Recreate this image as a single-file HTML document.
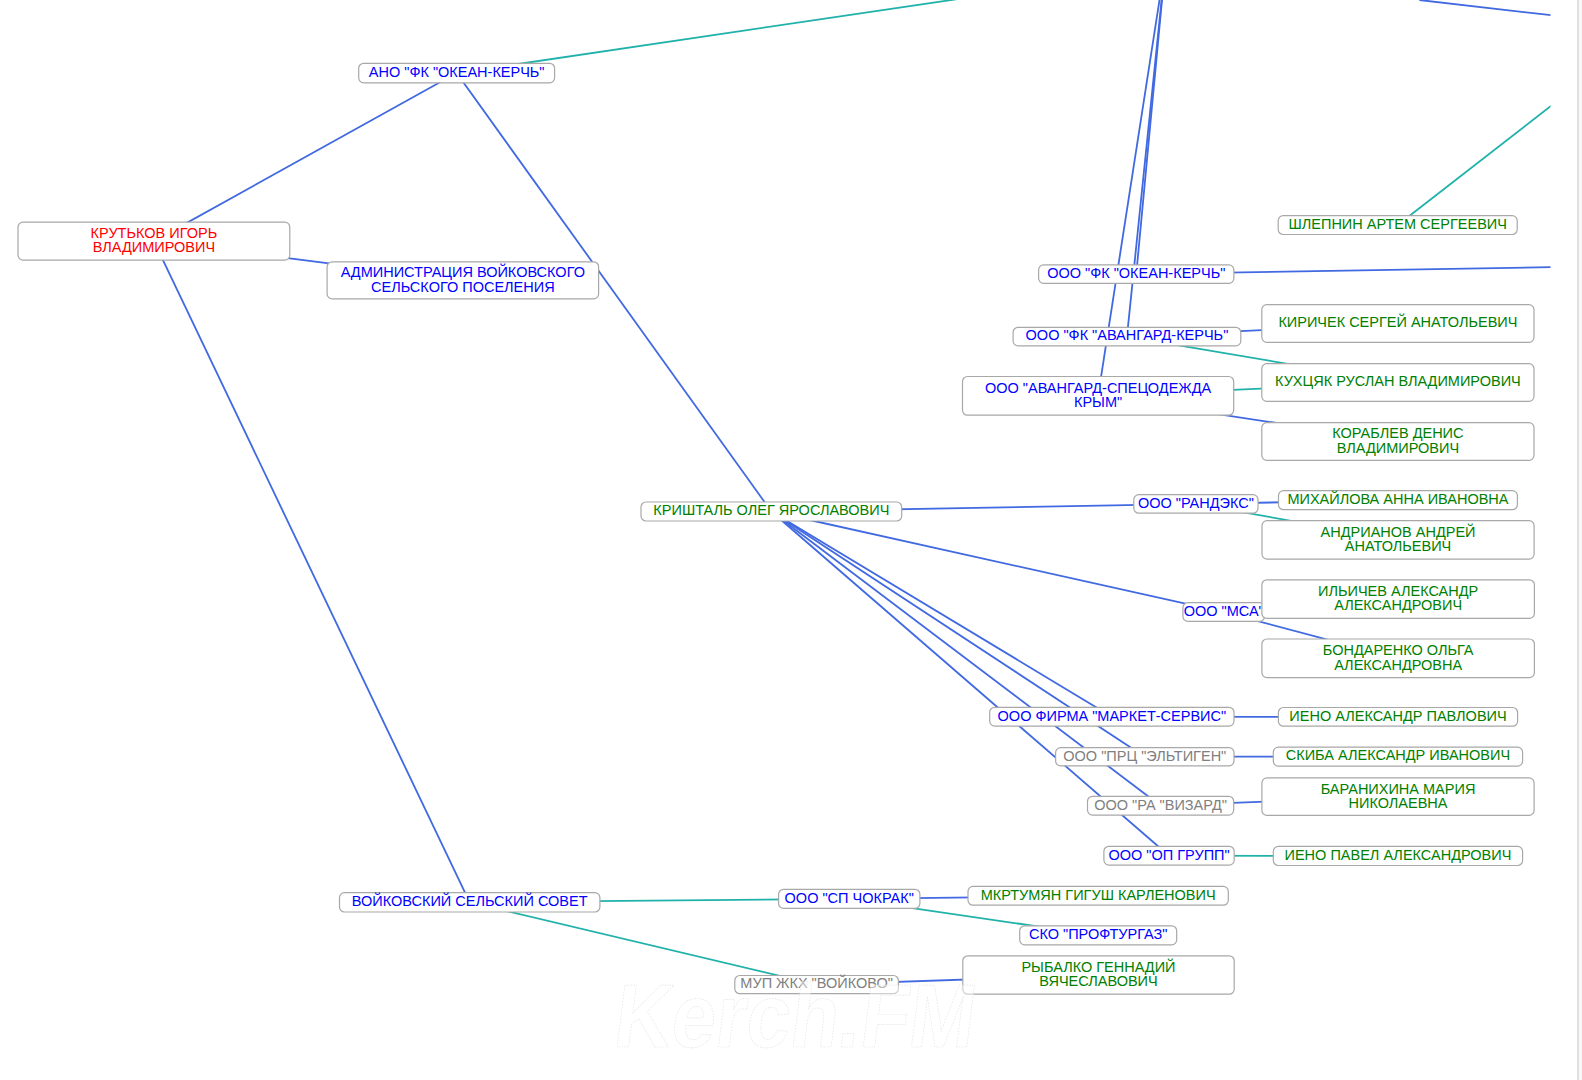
<!DOCTYPE html><html><head><meta charset="utf-8"><style>html,body{margin:0;padding:0;background:#fff;width:1582px;height:1080px;overflow:hidden}svg{position:absolute;left:0;top:0}</style></head><body>
<svg width="1582" height="1080" viewBox="0 0 1582 1080">
<defs><clipPath id="cp"><rect x="0" y="0" width="1550.5" height="1080"/></clipPath></defs>
<g><g clip-path="url(#cp)">
<line x1="153.90" y1="241.15" x2="456.65" y2="73.05" stroke="#4169e1" stroke-width="1.8"/>
<line x1="153.90" y1="241.15" x2="462.85" y2="280.35" stroke="#4169e1" stroke-width="1.8"/>
<line x1="153.90" y1="241.15" x2="469.70" y2="902.30" stroke="#4169e1" stroke-width="1.8"/>
<line x1="456.65" y1="73.05" x2="771.35" y2="511.50" stroke="#4169e1" stroke-width="1.8"/>
<line x1="1126.95" y1="336.60" x2="1397.90" y2="323.45" stroke="#4169e1" stroke-width="1.8"/>
<line x1="1126.95" y1="336.60" x2="1397.90" y2="382.50" stroke="#20b2aa" stroke-width="1.8"/>
<line x1="1098.10" y1="395.85" x2="1397.90" y2="382.50" stroke="#20b2aa" stroke-width="1.8"/>
<line x1="1098.10" y1="395.85" x2="1397.90" y2="441.45" stroke="#4169e1" stroke-width="1.8"/>
<line x1="771.35" y1="511.50" x2="1195.90" y2="503.90" stroke="#4169e1" stroke-width="1.8"/>
<line x1="1195.90" y1="503.90" x2="1397.95" y2="500.15" stroke="#4169e1" stroke-width="1.8"/>
<line x1="1195.90" y1="503.90" x2="1398.05" y2="539.85" stroke="#20b2aa" stroke-width="1.8"/>
<line x1="771.35" y1="511.50" x2="1223.70" y2="612.05" stroke="#4169e1" stroke-width="1.8"/>
<line x1="1223.70" y1="612.05" x2="1398.15" y2="658.30" stroke="#4169e1" stroke-width="1.8"/>
<line x1="1223.70" y1="612.05" x2="1398.15" y2="599.10" stroke="#4169e1" stroke-width="1.8"/>
<line x1="771.35" y1="511.50" x2="1111.85" y2="716.70" stroke="#4169e1" stroke-width="1.8"/>
<line x1="771.35" y1="511.50" x2="1144.80" y2="756.70" stroke="#4169e1" stroke-width="1.8"/>
<line x1="771.35" y1="511.50" x2="1160.60" y2="805.70" stroke="#4169e1" stroke-width="1.8"/>
<line x1="771.35" y1="511.50" x2="1169.05" y2="855.70" stroke="#4169e1" stroke-width="1.8"/>
<line x1="1111.85" y1="716.70" x2="1398.00" y2="716.85" stroke="#4169e1" stroke-width="1.8"/>
<line x1="1144.80" y1="756.70" x2="1397.95" y2="756.65" stroke="#4169e1" stroke-width="1.8"/>
<line x1="1160.60" y1="805.70" x2="1398.00" y2="796.65" stroke="#4169e1" stroke-width="1.8"/>
<line x1="1169.05" y1="855.70" x2="1397.95" y2="855.95" stroke="#20b2aa" stroke-width="1.8"/>
<line x1="469.70" y1="902.30" x2="849.25" y2="898.85" stroke="#20b2aa" stroke-width="1.8"/>
<line x1="849.25" y1="898.85" x2="1098.15" y2="895.80" stroke="#4169e1" stroke-width="1.8"/>
<line x1="849.25" y1="898.85" x2="1098.20" y2="935.30" stroke="#20b2aa" stroke-width="1.8"/>
<line x1="469.70" y1="902.30" x2="816.60" y2="984.60" stroke="#20b2aa" stroke-width="1.8"/>
<line x1="816.60" y1="984.60" x2="1098.50" y2="975.00" stroke="#4169e1" stroke-width="1.8"/>
<line x1="456.65" y1="73.05" x2="1940.60" y2="-146.10" stroke="#20b2aa" stroke-width="1.8"/>
<line x1="1165.80" y1="-40.60" x2="1136.25" y2="274.10" stroke="#4169e1" stroke-width="1.8"/>
<line x1="1165.80" y1="-40.60" x2="1126.95" y2="336.60" stroke="#4169e1" stroke-width="1.8"/>
<line x1="1165.80" y1="-40.60" x2="1098.10" y2="395.85" stroke="#4169e1" stroke-width="1.8"/>
<line x1="1419.40" y1="0.00" x2="1811.20" y2="45.30" stroke="#4169e1" stroke-width="1.8"/>
<line x1="1397.70" y1="225.05" x2="1855.80" y2="-131.20" stroke="#20b2aa" stroke-width="1.8"/>
<line x1="1136.25" y1="274.10" x2="2377.50" y2="253.40" stroke="#4169e1" stroke-width="1.8"/>
</g>
<rect x="1182.90" y="602.70" width="81.60" height="18.70" rx="5" ry="5" fill="#fff" stroke="#a8a8a8" stroke-width="1.2"/>
<text x="1223.70" y="615.89" text-anchor="middle" fill="#0000ff" font-family="Liberation Sans" font-size="14.5">ООО &quot;МСА&quot;</text>
<rect x="358.70" y="63.30" width="195.90" height="19.50" rx="5" ry="5" fill="#fff" stroke="#a8a8a8" stroke-width="1.2"/>
<text x="456.65" y="76.89" text-anchor="middle" fill="#0000ff" font-family="Liberation Sans" font-size="14.5">АНО &quot;ФК &quot;ОКЕАН-КЕРЧЬ&quot;</text>
<rect x="18.00" y="222.20" width="271.80" height="37.90" rx="5" ry="5" fill="#fff" stroke="#a8a8a8" stroke-width="1.2"/>
<text x="153.90" y="238.19" text-anchor="middle" fill="#ff0000" font-family="Liberation Sans" font-size="14.5">КРУТЬКОВ ИГОРЬ</text>
<text x="153.90" y="252.39" text-anchor="middle" fill="#ff0000" font-family="Liberation Sans" font-size="14.5">ВЛАДИМИРОВИЧ</text>
<rect x="327.10" y="261.80" width="271.50" height="37.10" rx="5" ry="5" fill="#fff" stroke="#a8a8a8" stroke-width="1.2"/>
<text x="462.85" y="277.39" text-anchor="middle" fill="#0000ff" font-family="Liberation Sans" font-size="14.5">АДМИНИСТРАЦИЯ ВОЙКОВСКОГО</text>
<text x="462.85" y="291.59" text-anchor="middle" fill="#0000ff" font-family="Liberation Sans" font-size="14.5">СЕЛЬСКОГО ПОСЕЛЕНИЯ</text>
<rect x="1278.20" y="215.60" width="239.00" height="18.90" rx="5" ry="5" fill="#fff" stroke="#a8a8a8" stroke-width="1.2"/>
<text x="1397.70" y="228.89" text-anchor="middle" fill="#008000" font-family="Liberation Sans" font-size="14.5">ШЛЕПНИН АРТЕМ СЕРГЕЕВИЧ</text>
<rect x="1038.60" y="264.90" width="195.30" height="18.40" rx="5" ry="5" fill="#fff" stroke="#a8a8a8" stroke-width="1.2"/>
<text x="1136.25" y="277.94" text-anchor="middle" fill="#0000ff" font-family="Liberation Sans" font-size="14.5">ООО &quot;ФК &quot;ОКЕАН-КЕРЧЬ&quot;</text>
<rect x="1261.80" y="304.60" width="272.20" height="37.70" rx="5" ry="5" fill="#fff" stroke="#a8a8a8" stroke-width="1.2"/>
<text x="1397.90" y="327.29" text-anchor="middle" fill="#008000" font-family="Liberation Sans" font-size="14.5">КИРИЧЕК СЕРГЕЙ АНАТОЛЬЕВИЧ</text>
<rect x="1013.10" y="327.30" width="227.70" height="18.60" rx="5" ry="5" fill="#fff" stroke="#a8a8a8" stroke-width="1.2"/>
<text x="1126.95" y="340.44" text-anchor="middle" fill="#0000ff" font-family="Liberation Sans" font-size="14.5">ООО &quot;ФК &quot;АВАНГАРД-КЕРЧЬ&quot;</text>
<rect x="962.50" y="376.50" width="271.20" height="38.70" rx="5" ry="5" fill="#fff" stroke="#a8a8a8" stroke-width="1.2"/>
<text x="1098.10" y="392.89" text-anchor="middle" fill="#0000ff" font-family="Liberation Sans" font-size="14.5">ООО &quot;АВАНГАРД-СПЕЦОДЕЖДА</text>
<text x="1098.10" y="407.09" text-anchor="middle" fill="#0000ff" font-family="Liberation Sans" font-size="14.5">КРЫМ&quot;</text>
<rect x="1261.80" y="363.70" width="272.20" height="37.60" rx="5" ry="5" fill="#fff" stroke="#a8a8a8" stroke-width="1.2"/>
<text x="1397.90" y="386.34" text-anchor="middle" fill="#008000" font-family="Liberation Sans" font-size="14.5">КУХЦЯК РУСЛАН ВЛАДИМИРОВИЧ</text>
<rect x="1261.80" y="422.60" width="272.20" height="37.70" rx="5" ry="5" fill="#fff" stroke="#a8a8a8" stroke-width="1.2"/>
<text x="1397.90" y="438.49" text-anchor="middle" fill="#008000" font-family="Liberation Sans" font-size="14.5">КОРАБЛЕВ ДЕНИС</text>
<text x="1397.90" y="452.69" text-anchor="middle" fill="#008000" font-family="Liberation Sans" font-size="14.5">ВЛАДИМИРОВИЧ</text>
<rect x="641.00" y="502.00" width="260.70" height="19.00" rx="5" ry="5" fill="#fff" stroke="#a8a8a8" stroke-width="1.2"/>
<text x="771.35" y="515.34" text-anchor="middle" fill="#008000" font-family="Liberation Sans" font-size="14.5">КРИШТАЛЬ ОЛЕГ ЯРОСЛАВОВИЧ</text>
<rect x="1133.80" y="494.60" width="124.20" height="18.60" rx="5" ry="5" fill="#fff" stroke="#a8a8a8" stroke-width="1.2"/>
<text x="1195.90" y="507.74" text-anchor="middle" fill="#0000ff" font-family="Liberation Sans" font-size="14.5">ООО &quot;РАНДЭКС&quot;</text>
<rect x="1278.50" y="490.60" width="238.90" height="19.10" rx="5" ry="5" fill="#fff" stroke="#a8a8a8" stroke-width="1.2"/>
<text x="1397.95" y="503.99" text-anchor="middle" fill="#008000" font-family="Liberation Sans" font-size="14.5">МИХАЙЛОВА АННА ИВАНОВНА</text>
<rect x="1262.00" y="520.60" width="272.10" height="38.50" rx="5" ry="5" fill="#fff" stroke="#a8a8a8" stroke-width="1.2"/>
<text x="1398.05" y="536.89" text-anchor="middle" fill="#008000" font-family="Liberation Sans" font-size="14.5">АНДРИАНОВ АНДРЕЙ</text>
<text x="1398.05" y="551.09" text-anchor="middle" fill="#008000" font-family="Liberation Sans" font-size="14.5">АНАТОЛЬЕВИЧ</text>
<rect x="1261.90" y="579.80" width="272.50" height="38.60" rx="5" ry="5" fill="#fff" stroke="#a8a8a8" stroke-width="1.2"/>
<text x="1398.15" y="596.14" text-anchor="middle" fill="#008000" font-family="Liberation Sans" font-size="14.5">ИЛЬИЧЕВ АЛЕКСАНДР</text>
<text x="1398.15" y="610.34" text-anchor="middle" fill="#008000" font-family="Liberation Sans" font-size="14.5">АЛЕКСАНДРОВИЧ</text>
<rect x="1261.90" y="639.00" width="272.50" height="38.60" rx="5" ry="5" fill="#fff" stroke="#a8a8a8" stroke-width="1.2"/>
<text x="1398.15" y="655.34" text-anchor="middle" fill="#008000" font-family="Liberation Sans" font-size="14.5">БОНДАРЕНКО ОЛЬГА</text>
<text x="1398.15" y="669.54" text-anchor="middle" fill="#008000" font-family="Liberation Sans" font-size="14.5">АЛЕКСАНДРОВНА</text>
<rect x="989.70" y="707.30" width="244.30" height="18.80" rx="5" ry="5" fill="#fff" stroke="#a8a8a8" stroke-width="1.2"/>
<text x="1111.85" y="720.54" text-anchor="middle" fill="#0000ff" font-family="Liberation Sans" font-size="14.5">ООО ФИРМА &quot;МАРКЕТ-СЕРВИС&quot;</text>
<rect x="1278.40" y="707.50" width="239.20" height="18.70" rx="5" ry="5" fill="#fff" stroke="#a8a8a8" stroke-width="1.2"/>
<text x="1398.00" y="720.69" text-anchor="middle" fill="#008000" font-family="Liberation Sans" font-size="14.5">ИЕНО АЛЕКСАНДР ПАВЛОВИЧ</text>
<rect x="1055.60" y="747.60" width="178.40" height="18.20" rx="5" ry="5" fill="#fff" stroke="#a8a8a8" stroke-width="1.2"/>
<text x="1144.80" y="760.54" text-anchor="middle" fill="#808080" font-family="Liberation Sans" font-size="14.5">ООО &quot;ПРЦ &quot;ЭЛЬТИГЕН&quot;</text>
<rect x="1273.30" y="747.20" width="249.30" height="18.90" rx="5" ry="5" fill="#fff" stroke="#a8a8a8" stroke-width="1.2"/>
<text x="1397.95" y="760.49" text-anchor="middle" fill="#008000" font-family="Liberation Sans" font-size="14.5">СКИБА АЛЕКСАНДР ИВАНОВИЧ</text>
<rect x="1087.50" y="796.30" width="146.20" height="18.80" rx="5" ry="5" fill="#fff" stroke="#a8a8a8" stroke-width="1.2"/>
<text x="1160.60" y="809.54" text-anchor="middle" fill="#808080" font-family="Liberation Sans" font-size="14.5">ООО &quot;РА &quot;ВИЗАРД&quot;</text>
<rect x="1261.90" y="777.90" width="272.20" height="37.50" rx="5" ry="5" fill="#fff" stroke="#a8a8a8" stroke-width="1.2"/>
<text x="1398.00" y="793.69" text-anchor="middle" fill="#008000" font-family="Liberation Sans" font-size="14.5">БАРАНИХИНА МАРИЯ</text>
<text x="1398.00" y="807.89" text-anchor="middle" fill="#008000" font-family="Liberation Sans" font-size="14.5">НИКОЛАЕВНА</text>
<rect x="1103.90" y="846.30" width="130.30" height="18.80" rx="5" ry="5" fill="#fff" stroke="#a8a8a8" stroke-width="1.2"/>
<text x="1169.05" y="859.54" text-anchor="middle" fill="#0000ff" font-family="Liberation Sans" font-size="14.5">ООО &quot;ОП ГРУПП&quot;</text>
<rect x="1273.30" y="846.40" width="249.30" height="19.10" rx="5" ry="5" fill="#fff" stroke="#a8a8a8" stroke-width="1.2"/>
<text x="1397.95" y="859.79" text-anchor="middle" fill="#008000" font-family="Liberation Sans" font-size="14.5">ИЕНО ПАВЕЛ АЛЕКСАНДРОВИЧ</text>
<rect x="339.50" y="892.60" width="260.40" height="19.40" rx="5" ry="5" fill="#fff" stroke="#a8a8a8" stroke-width="1.2"/>
<text x="469.70" y="906.14" text-anchor="middle" fill="#0000ff" font-family="Liberation Sans" font-size="14.5">ВОЙКОВСКИЙ СЕЛЬСКИЙ СОВЕТ</text>
<rect x="778.60" y="889.30" width="141.30" height="19.10" rx="5" ry="5" fill="#fff" stroke="#a8a8a8" stroke-width="1.2"/>
<text x="849.25" y="902.69" text-anchor="middle" fill="#0000ff" font-family="Liberation Sans" font-size="14.5">ООО &quot;СП ЧОКРАК&quot;</text>
<rect x="968.00" y="886.40" width="260.30" height="18.80" rx="5" ry="5" fill="#fff" stroke="#a8a8a8" stroke-width="1.2"/>
<text x="1098.15" y="899.64" text-anchor="middle" fill="#008000" font-family="Liberation Sans" font-size="14.5">МКРТУМЯН ГИГУШ КАРЛЕНОВИЧ</text>
<rect x="1019.70" y="925.80" width="157.00" height="19.00" rx="5" ry="5" fill="#fff" stroke="#a8a8a8" stroke-width="1.2"/>
<text x="1098.20" y="939.14" text-anchor="middle" fill="#0000ff" font-family="Liberation Sans" font-size="14.5">СКО &quot;ПРОФТУРГАЗ&quot;</text>
<rect x="734.80" y="975.50" width="163.60" height="18.20" rx="5" ry="5" fill="#fff" stroke="#a8a8a8" stroke-width="1.2"/>
<text x="816.60" y="988.44" text-anchor="middle" fill="#808080" font-family="Liberation Sans" font-size="14.5">МУП ЖКХ &quot;ВОЙКОВО&quot;</text>
<rect x="962.80" y="955.80" width="271.40" height="38.40" rx="5" ry="5" fill="#fff" stroke="#a8a8a8" stroke-width="1.2"/>
<text x="1098.50" y="972.04" text-anchor="middle" fill="#008000" font-family="Liberation Sans" font-size="14.5">РЫБАЛКО ГЕННАДИЙ</text>
<text x="1098.50" y="986.24" text-anchor="middle" fill="#008000" font-family="Liberation Sans" font-size="14.5">ВЯЧЕСЛАВОВИЧ</text>
<text x="0" y="0" transform="translate(792,1047) skewX(-7)" text-anchor="middle" font-family="Liberation Sans" font-weight="bold" font-size="90" textLength="360" lengthAdjust="spacingAndGlyphs" fill="#fff" fill-opacity="0.45" stroke="#e3e3e3" stroke-width="0.7" stroke-dasharray="1.5 1.5" stroke-linejoin="round">Kerch.FM</text>
</g></svg>
<div style="position:absolute;left:1577px;top:0;width:2px;height:1080px;background:#e0e0e0"></div>
<div style="position:absolute;left:1579px;top:0;width:3px;height:1080px;background:#f7f8fa"></div>
</body></html>
